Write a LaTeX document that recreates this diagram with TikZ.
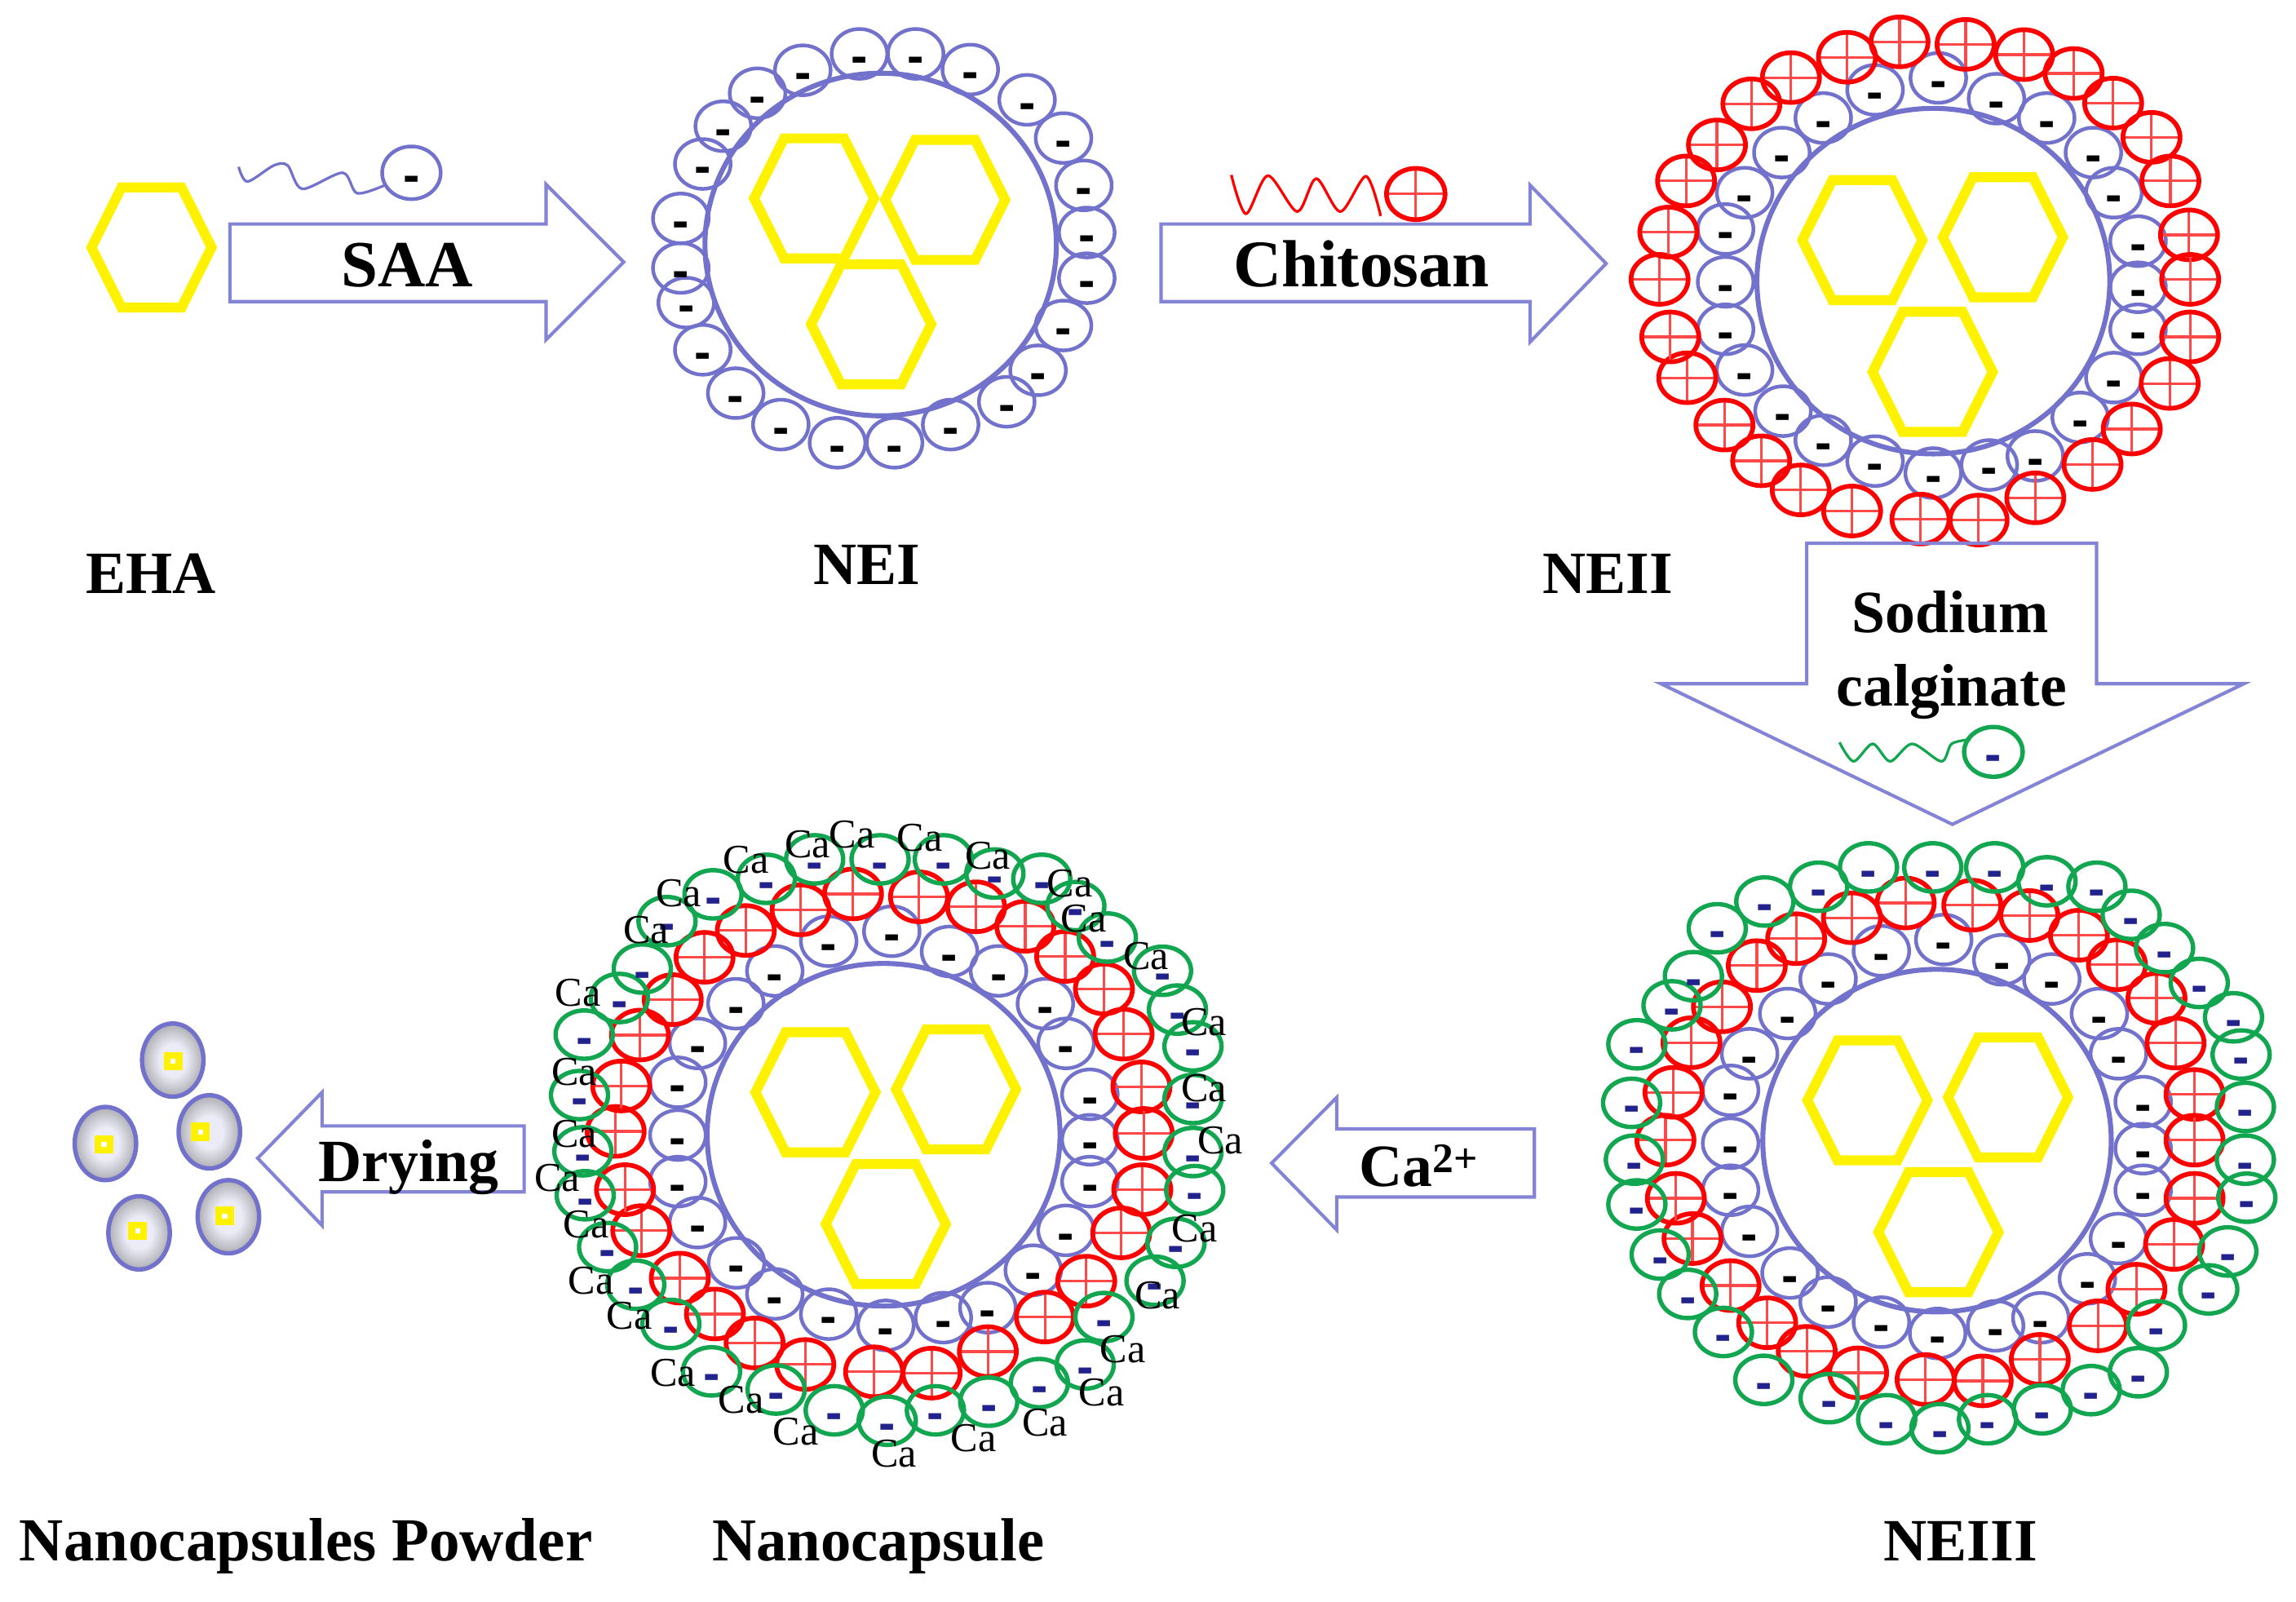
\documentclass[tikz,border=0pt]{standalone}
\usepackage{fontspec}
\setmainfont{Liberation Serif}
\setsansfont{Liberation Sans}
\usetikzlibrary{shapes.geometric}
\definecolor{shellblue}{HTML}{7272CC}
\definecolor{arrowblue}{HTML}{8484D6}
\definecolor{beadgreen}{HTML}{12A650}
\definecolor{crossred}{HTML}{FF4848}
\definecolor{minusnavy}{HTML}{22228C}
\definecolor{grainpale}{HTML}{ECECF8}
\definecolor{graingray}{HTML}{808080}
\pgfdeclareradialshading{grainfade}{\pgfpointorigin}{color(0bp)=(grainpale); color(11bp)=(grainpale); color(35bp)=(graingray); color(50bp)=(graingray)}
\newcommand{\minusmark}{\raisebox{-13.2pt}[0pt][0pt]{-}}
% one ring of beads: name, style, text, x/y list
\newcommand{\beadring}[4]{\foreach \x/\y [count=\i] in {#4} \node[#2] (#1-\i) at (\x,\y) {#3};}
\tikzset{
	negbead/.style={ellipse,draw=shellblue,line width=2.5pt,minimum width=38pt,minimum height=34pt,inner sep=0pt,font=\sffamily\bfseries\fontsize{34}{34}\selectfont},
	posbead/.style={ellipse,draw=red,line width=3.2pt,minimum width=39pt,minimum height=34pt,inner sep=0pt,
		path picture={\draw[crossred,line width=1.8pt] (path picture bounding box.west) -- (path picture bounding box.east) (path picture bounding box.north) -- (path picture bounding box.south);}},
	algbead/.style={negbead,draw=beadgreen,line width=3pt,text=minusnavy,minimum width=39pt,minimum height=33pt},
	coreline/.style={draw=shellblue,line width=3.4pt},
	hexline/.style={draw=yellow,line width=6.8pt,miter limit=10},
	hexcell/.pic={\draw[hexline] (-41,0) -- (-20.5,-41) -- (20.5,-41) -- (41,0) -- (20.5,41) -- (-20.5,41) -- cycle;},
	blockarrow/.style={draw=arrowblue,line width=2.3pt,miter limit=10},
	labeltext/.style={font=\bfseries\fontsize{41}{45}\selectfont,anchor=base,inner sep=0pt},
	catext/.style={font=\fontsize{28}{28}\selectfont,inner sep=0pt},
	grain/.style={ellipse,draw=shellblue,line width=3pt,minimum width=42pt,minimum height=50pt,inner sep=0pt,shading=grainfade},
	graincore/.style={draw=yellow,fill=white,line width=4.6pt,minimum size=8pt,inner sep=0pt}
}
\begin{document}
\begin{tikzpicture}[x=1pt,y=-1pt]
	\useasboundingbox (0,0) rectangle (1568.2,1094.1);
	% EHA
	\pic at (103.5,169) {hexcell};
	\node[labeltext] (eha) at (103,405) {EHA};
	% SAA arrow and molecule
	\draw[blockarrow] (157,153) -- (373,153) -- (373,126) -- (426,179) -- (373,232) -- (373,206) -- (157,206) -- cycle;
	\node[labeltext,font=\bfseries\fontsize{45}{45}\selectfont] (saa) at (278,196) {SAA};
	\node[negbead,minimum width=40pt,minimum height=36pt] (saabead) at (281,118) {\minusmark};
	\draw[shellblue,line width=1.8pt] plot[smooth] coordinates {(163,114) (169,124) (187,113) (196.5,113) (206.5,129) (234,118) (244,132) (264,126)};
	% NEI
	\draw[coreline] (601.5,167) ellipse (120 and 117);
	\beadring{nei}{negbead}{\minusmark}{587/36.8,625.4/36.8,662.7/47.5,701.5/68.2,726.4/94.3,740.3/126.6,742.3/158.8,742.3/190,726.4/222.3,709/252.9,687.6/274.4,649.3/290,611/302.4,572/302.4,533.3/290,502.5/268.5,480/238.9,468.7/206.7,465/183,465/149.2,480/112,494/86.2,517.4/63.7,548.3/48}
	\pic at (556,135.5) {hexcell};
	\pic at (645.5,136.5) {hexcell};
	\pic at (595,221.5) {hexcell};
	\node[labeltext] (nei-label) at (592,399) {NEI};
	% Chitosan arrow and molecule
	\draw[blockarrow] (793,153) -- (1045,153) -- (1045,126.4) -- (1097,180) -- (1045,233.6) -- (1045,206) -- (793,206) -- cycle;
	\node[labeltext,font=\bfseries\fontsize{45.5}{45}\selectfont] (chitosan) at (930,196) {Chitosan};
	\node[posbead,minimum width=40pt,minimum height=35pt] (chitobead) at (967,132.5) {};
	\draw[red,line width=1.8pt] plot[smooth] coordinates {(841,119.5) (851,146) (866,120) (886,144.5) (899,122) (915.5,144.5) (933,120.4) (943,147.5)};
	% NEII
	\draw[coreline] (1320.5,192) ellipse (120.5 and 118);
	\beadring{neii}{negbead}{\minusmark}{1323.9/53.2,1363.6/67.4,1397.9/80.6,1429.8/104.2,1443.8/131.6,1460.3/164.7,1460.3/196.2,1460.3/224.9,1443.8/257.9,1420.8/285.1,1390.1/311.4,1358.7/317.6,1320.4/323.1,1280.7/314.9,1245.3/300.7,1217.8/280.8,1191.6/252.7,1178.6/224.9,1178.6/192.5,1178.6/156.4,1191.6/131.6,1217/104.2,1245.3/80.6,1280.7/61.4}
	\beadring{neii-pos}{posbead}{}{1297.4/28.6,1342.5/30.3,1382.5/37.3,1416.3/50.2,1443.3/70.4,1469.5/93.8,1482.4/123.6,1495.1/160.4,1495.9/190.8,1495.9/230.1,1481.9/261.9,1456/293,1429.2/317.2,1390.1/340,1351.4/355.2,1311.7/354.5,1265/349,1229.9/334.6,1202.9/314.7,1177.8/290.3,1152.4/258,1140.8/230.1,1133.5/190.8,1139.5/158.5,1151.6/123.6,1172.7/99,1196.2/70.9,1223.2/53,1261.5/39.1}
	\pic at (1272,164) {hexcell};
	\pic at (1368,162) {hexcell};
	\pic at (1320,254) {hexcell};
	\node[labeltext] (neii-label) at (1098,405) {NEII};
	% Sodium calginate arrow and molecule
	\draw[blockarrow] (1234,371) -- (1432,371) -- (1432,467) -- (1532.5,467) -- (1333.5,563) -- (1134.5,467) -- (1234,467) -- cycle;
	\node[labeltext] (sodium) at (1332,432) {Sodium};
	\node[labeltext] (calginate) at (1333,482) {calginate};
	\node[algbead,minimum width=40pt,minimum height=34pt] (algbead) at (1361.5,513.5) {\minusmark};
	\draw[beadgreen,line width=1.8pt] plot[smooth] coordinates {(1256.4,507) (1266,520) (1279,508) (1291,520) (1306,508) (1326,520) (1333,508) (1346,505)};
	% NEIII
	\draw[coreline] (1323,779) ellipse (119 and 117);
	\beadring{neiii}{negbead}{\minusmark}{1327.6/641.7,1367.2/655.5,1401.4/668.6,1433.9/692.2,1446.9/719.7,1463.8/752.4,1463.8/784.5,1463.8/812.9,1446.9/845.9,1425.7/873.4,1393.9/900,1363/905.5,1323.4/910.7,1285/903,1248.6/889.3,1222.6/869.4,1195/841,1182/812.9,1182/780.8,1182/744.7,1195/719.7,1221/692.2,1248.6/668.6,1285/649.4}
	\beadring{neiii-pos}{posbead}{}{1301.6/616.7,1347.1/618.2,1386.1/625.3,1419.9/638.7,1445.9/658.9,1472.9/681.8,1485.9/712.4,1498.9/747.5,1498.9/778.7,1498.9/818.4,1484.9/849.9,1459.2/880.5,1432.9/905.5,1393.2/928.4,1354.2/943.1,1315.2/942.2,1269.1/937.6,1234/922.9,1207/903.4,1182/878,1156/845.9,1144.6/818.4,1137.5/778.7,1143/746,1155.3/712.1,1176.1/687.6,1199.9/659.5,1226.8/641.1,1264.9/626.8}
	\beadring{neiii-alg}{algbead}{\minusmark}{1276.2/592.4,1320.1/592.4,1362.4/592.4,1398.1/601.9,1432.2/605.6,1455.6/624.8,1478.4/647.5,1502.1/671.3,1525.5/694.8,1530.7/720.2,1533.6/756,1533.6/792,1534.6/818,1521.6/854.7,1508.6/880.6,1472.9/905.1,1460.5/937.2,1428.3/949.4,1394.9/962.5,1357.5/969.3,1325/975.4,1288.6/969.3,1249.3/954.9,1204.7/942.4,1177.1/909.7,1152.7/883.7,1133.9/856.8,1118/822.6,1116.3/792,1114.4/753.2,1118/713.2,1142/686.6,1156.6/666.7,1172.9/634,1205.4/615.7,1242.1/605.6}
	\pic at (1275.5,751.5) {hexcell};
	\pic at (1371.5,749.5) {hexcell};
	\pic at (1324,841.5) {hexcell};
	\node[labeltext] (neiii-label) at (1339,1066) {NEIII};
	% Ca arrow
	\draw[blockarrow] (1048,771) -- (913,771) -- (913,749.5) -- (868.5,794.4) -- (913,840) -- (913,817.5) -- (1048,817.5) -- cycle;
	\node[labeltext] (ca-ion) at (969,810) {Ca\textsuperscript{2+}};
	% Nanocapsule
	\draw[coreline] (603.5,775) ellipse (120.5 and 117);
	\beadring{nano}{negbead}{\minusmark}{609.1/636,648.5/649.8,682/663.1,714/685.5,728.1/712.6,744.4/747.4,744.4/778.4,744.4/807,728.1/840.3,705.7/867.5,674.7/893.1,644.3/899.9,605/905.2,566/897.5,529.2/883.7,503/862.5,476.4/835,463/807,463/775.2,463/739.2,476.4/712.6,502.6/685.5,529.2/663.1,566/642.8}
	\beadring{nano-pos}{posbead}{}{582.6/610.5,627.7/612.5,666.7/619.3,700.3/632.6,727.5/653.2,754/675.4,767.4/706.3,779.6/742.3,781.2/774.1,780.2/812.5,765.8/842,741.9/875,713.7/899.5,674.7/923.1,636.3/937.8,597/936.9,550/931.9,515.4/917.2,488.3/897.4,464.3/872.9,438/840.5,426.9/812.5,420.5/772.7,424.3/741.7,437.1/706.9,459.5/682.7,481.2/653.8,509.4/635.5,546.8/621.4}
	\beadring{nano-alg}{algbead}{\minusmark}{556.4/586.9,601.1/586.9,644.3/586.9,679.5/596.6,711.5/600.2,734.8/618.8,756.3/640.3,794/663,804.2/689.5,814.8/714.6,814.8/750.6,814.8/786.8,816/812.8,803.2/848.8,788.9/874.7,754/899.5,741.2/931.9,709.9/944.6,675.3/957.3,638.9/963.2,606/970.3,569.8/963.2,530.1/949,486/936.6,458.2/904.2,434.2/877.4,415/851.7,399.7/816.3,398.1/786.3,395.8/747.9,399/706.6,423/681.6,438.7/661.5,455.6/629.1,487/610.8,523.4/600.2}
	\beadring{ca}{catext}{Ca}{551.6/576.6,582/569.8,628.3/572.1,674.7/584.5,730.7/603.1,740.3/627.6,782.8/653.2,822.4/698,822.4/743.2,833.6/778.6,816/839,790.5/884.7,766.8/921.6,752.4/951.1,713.7/971.7,665.1/982,610.7/993,543.6/977.6,506.2/956.1,459.8/937.8,430/898.9,403.8/874.4,400.3/836,380.5/804.5,392.3/774.2,392.3/732,394.9/678.3,441.2/635,463.6/609.9,509.4/587.5}
	\pic at (557,746) {hexcell};
	\pic at (653,744) {hexcell};
	\pic at (605,836) {hexcell};
	\node[labeltext,font=\bfseries\fontsize{41.6}{45}\selectfont] (nano-label) at (600,1066) {Nanocapsule};
	% Drying arrow
	\draw[blockarrow] (358,769) -- (220,769) -- (220,746) -- (176,791) -- (220,837) -- (220,814) -- (358,814) -- cycle;
	\node[labeltext] (drying) at (279,807) {Drying};
	% Powder
	\beadring{grain}{grain}{}{118/724,72/781,143/773,95/842,156/831}
	\beadring{core}{graincore}{}{118.3/724.7,71/781.6,136.8/773,94/840.7,153.5/830.5}
	\node[labeltext,font=\bfseries\fontsize{41.8}{45}\selectfont] (powder) at (209,1066) {Nanocapsules Powder};
\end{tikzpicture}
\end{document}
